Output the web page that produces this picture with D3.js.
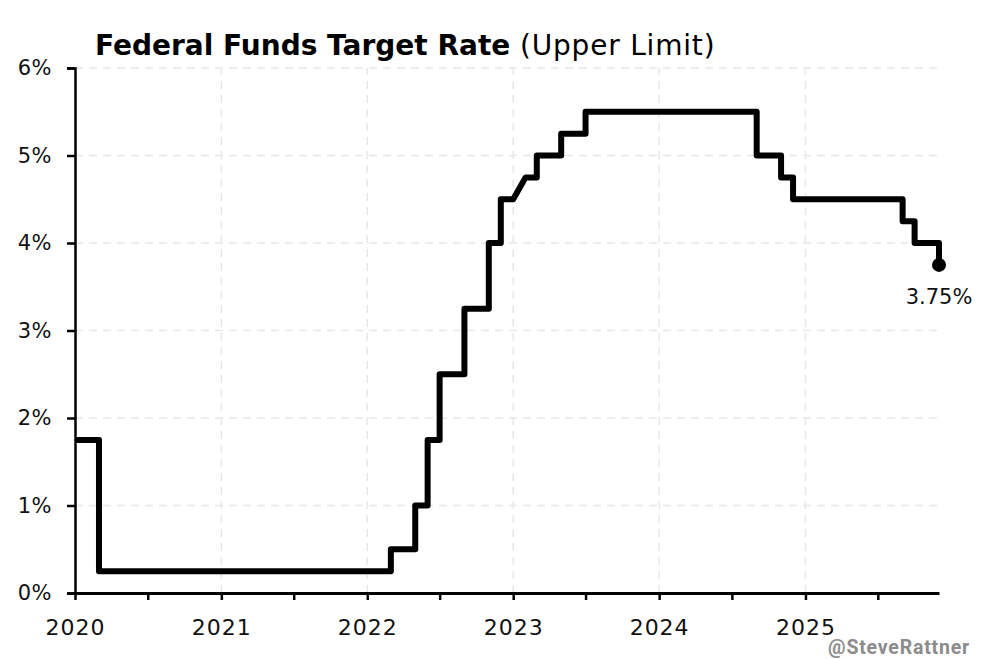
<!DOCTYPE html>
<html>
<head>
<meta charset="utf-8">
<script src="https://cdn.jsdelivr.net/npm/d3@7"></script>
<style>
  body { margin: 0; background: #fff; }
  svg { display: block; font-family: "DejaVu Sans", "Noto Sans", sans-serif; }
</style>
</head>
<body>
<svg id="chart"></svg>
<script>
// vertices of the rate line (monthly, each change drawn as a vertical step)
var dates = [
    "2020-01-01", "2020-03-01", "2020-03-01", "2022-03-01", "2022-03-01",
    "2022-05-01", "2022-05-01", "2022-06-01", "2022-06-01", "2022-07-01",
    "2022-07-01", "2022-09-01", "2022-09-01", "2022-11-01", "2022-11-01",
    "2022-12-01", "2022-12-01", "2023-01-01", "2023-02-01", "2023-03-01",
    "2023-03-01", "2023-05-01", "2023-05-01", "2023-07-01", "2023-07-01",
    "2024-09-01", "2024-09-01", "2024-11-01", "2024-11-01", "2024-12-01",
    "2024-12-01", "2025-09-01", "2025-09-01", "2025-10-01", "2025-10-01",
    "2025-12-01", "2025-12-01"
]
var rates = [
    1.75, 1.75, 0.25, 0.25, 0.50,
    0.50, 1.00, 1.00, 1.75, 1.75,
    2.50, 2.50, 3.25, 3.25, 4.00,
    4.00, 4.50, 4.50, 4.75, 4.75,
    5.00, 5.00, 5.25, 5.25, 5.50,
    5.50, 5.00, 5.00, 4.75, 4.75,
    4.50, 4.50, 4.25, 4.25, 4.00,
    4.00, 3.75
]
var yTicks = [0, 1, 2, 3, 4, 5, 6]
var yearTicks = ["2020", "2021", "2022", "2023", "2024", "2025"]
var halfTicks = ["2020-07-01", "2021-07-01", "2022-07-01", "2023-07-01", "2024-07-01", "2025-07-01"]
var lastLabel = "3.75%"

var parse = d3.timeParse("%Y-%m-%d")
var data = dates.map((d, i) => ({date: parse(d), rate: rates[i]}))

var font = "'DejaVu Sans', 'Noto Sans', sans-serif"

var dimensions = {
    width: 992,
    height: 659,
    margin: { top: 68, bottom: 66, right: 53, left: 75 }
}

var svg = d3.select("#chart")
            .attr("width", dimensions.width)
            .attr("height", dimensions.height)

var xScale = d3.scaleTime()
            .domain([parse("2020-01-01"), parse("2025-12-01")])
            .range([dimensions.margin.left, dimensions.width - dimensions.margin.right])

var yScale = d3.scaleLinear()
            .domain([0, 6])
            .range([dimensions.height - dimensions.margin.bottom, dimensions.margin.top])

// grid
var grid = svg.append("g")
grid.selectAll(".hgrid").data(yTicks.slice(1)).enter().append("line")
    .attr("x1", xScale.range()[0])
    .attr("x2", xScale.range()[1])
    .attr("y1", d => yScale(d))
    .attr("y2", d => yScale(d))
    .attr("stroke", "#e8e8e8")
    .attr("stroke-width", 1.5)
    .attr("stroke-dasharray", "8,6")
grid.selectAll(".vgrid").data(yearTicks.slice(1)).enter().append("line")
    .attr("x1", d => xScale(parse(d + "-01-01")))
    .attr("x2", d => xScale(parse(d + "-01-01")))
    .attr("y1", yScale(0))
    .attr("y2", yScale(6))
    .attr("stroke", "#e8e8e8")
    .attr("stroke-width", 1.5)
    .attr("stroke-dasharray", "8,6")

// axes
var yAxis = d3.axisLeft(yScale).tickValues(yTicks).tickFormat(d => d + "%").tickSize(8).tickPadding(15)
var gy = svg.append("g").attr("transform", "translate(" + dimensions.margin.left + ",0)").call(yAxis)
gy.attr("font-family", null).attr("font-size", null)
gy.select(".domain").attr("stroke", "#000").attr("stroke-width", 2.5)
gy.selectAll(".tick line").attr("stroke", "#000").attr("stroke-width", 2.5)
gy.selectAll("text").style("font-family", font).style("font-size", "21px").style("letter-spacing", "0.5px").attr("fill", "#111")

var xAxis = d3.axisBottom(xScale)
            .tickValues(yearTicks.map(d => parse(d + "-01-01")).concat(halfTicks.map(parse)))
            .tickFormat(d => d.getMonth() == 0 ? d3.timeFormat("%Y")(d) : "")
            .tickSize(7).tickSizeOuter(0).tickPadding(19)
var gx = svg.append("g").attr("transform", "translate(0," + yScale(0) + ")").call(xAxis)
gx.attr("font-family", null).attr("font-size", null)
gx.select(".domain").attr("stroke", "#000").attr("stroke-width", 3)
gx.selectAll(".tick line").attr("stroke", "#000").attr("stroke-width", 2.5)
gx.selectAll("text").style("font-family", font).style("font-size", "22px").style("letter-spacing", "1px").attr("fill", "#111")

// rate line
var line = d3.line().x(d => xScale(d.date)).y(d => yScale(d.rate))
svg.append("path")
    .datum(data)
    .attr("d", line)
    .attr("fill", "none")
    .attr("stroke", "#000")
    .attr("stroke-width", 6)
    .attr("stroke-linejoin", "round")

var last = data[data.length - 1]
svg.append("circle")
    .attr("cx", xScale(last.date))
    .attr("cy", yScale(last.rate))
    .attr("r", 7)
    .attr("fill", "#000")
svg.append("text")
    .attr("x", xScale(last.date))
    .attr("y", yScale(last.rate) + 39)
    .attr("text-anchor", "middle")
    .style("font-family", font)
    .style("font-size", "21px")
    .attr("fill", "#111")
    .text(lastLabel)

// title
var title = svg.append("text").attr("x", 95).attr("y", 55).style("font-family", font).style("font-size", "28px").attr("fill", "#000")
title.append("tspan").style("font-weight", 700).text("Federal Funds Target Rate")
title.append("tspan").style("font-weight", 400).style("letter-spacing", "0.8px").text(" (Upper Limit)")

svg.append("text")
    .attr("x", 970).attr("y", 654)
    .attr("text-anchor", "end")
    .style("font-family", "Roboto, sans-serif")
    .style("font-weight", 700)
    .style("font-size", "19.5px")
    .style("letter-spacing", "0.8px")
    .attr("fill", "#8c8c8c")
    .text("@SteveRattner")
</script>
</body>
</html>
